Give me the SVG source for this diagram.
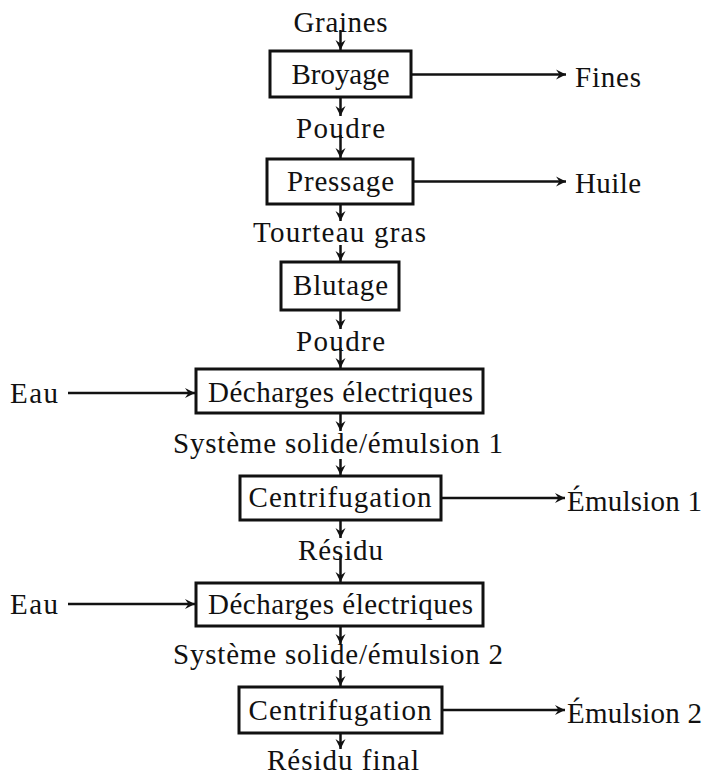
<svg xmlns="http://www.w3.org/2000/svg" width="707" height="775" viewBox="0 0 707 775">
<style>
text{font-family:"Liberation Serif","Times New Roman",serif;font-size:29px;fill:#111}
.c{text-anchor:middle}
.box{fill:#fff;stroke:#111;stroke-width:3}
.ln{fill:none;stroke:#111;stroke-width:2.5;marker-end:url(#ah)}
</style>
<defs>
<marker id="ah" markerUnits="userSpaceOnUse" markerWidth="14" markerHeight="12" viewBox="-11 -6 12 12" refX="0" refY="0" orient="auto">
<path d="M0,0 L-10,-5 L-6.5,0 L-10,5 Z" fill="#111"/>
</marker>
</defs>
<rect width="707" height="775" fill="#fff"/>
<g id="connectors">
<line class="ln" x1="340.5" y1="30" x2="340.5" y2="50"/>
<line class="ln" x1="340.5" y1="97" x2="340.5" y2="116"/>
<line class="ln" x1="340.5" y1="135" x2="340.5" y2="158"/>
<line class="ln" x1="340.5" y1="203" x2="340.5" y2="221"/>
<line class="ln" x1="340.5" y1="245" x2="340.5" y2="261"/>
<line class="ln" x1="340.5" y1="310" x2="340.5" y2="329"/>
<line class="ln" x1="340.5" y1="348" x2="340.5" y2="368"/>
<line class="ln" x1="340.5" y1="413" x2="340.5" y2="431"/>
<line class="ln" x1="340.5" y1="459" x2="340.5" y2="475"/>
<line class="ln" x1="340.5" y1="520" x2="340.5" y2="538"/>
<line class="ln" x1="340.5" y1="556" x2="340.5" y2="582"/>
<line class="ln" x1="340.5" y1="626" x2="340.5" y2="644"/>
<line class="ln" x1="340.5" y1="670" x2="340.5" y2="686"/>
<line class="ln" x1="340.5" y1="733" x2="340.5" y2="749"/>
<line class="ln" x1="411" y1="74.5" x2="566" y2="74.5"/>
<line class="ln" x1="413" y1="181.5" x2="566" y2="181.5"/>
<line class="ln" x1="68" y1="393" x2="195" y2="393"/>
<line class="ln" x1="441" y1="498" x2="565" y2="498"/>
<line class="ln" x1="68" y1="604" x2="195" y2="604"/>
<line class="ln" x1="442" y1="710" x2="565" y2="710"/>
</g>
<g id="graines"><text class="c" x="340.5" y="32" textLength="94">Graines</text></g>
<g id="broyage"><rect class="box" x="270" y="51" width="141" height="46"/><text class="c" x="340.5" y="84" textLength="98">Broyage</text></g>
<g id="fines"><text x="575" y="87" textLength="66">Fines</text></g>
<g id="poudre1"><text class="c" x="340.5" y="138" textLength="89">Poudre</text></g>
<g id="pressage"><rect class="box" x="267" y="159" width="146" height="45"/><text class="c" x="340.5" y="191" textLength="107">Pressage</text></g>
<g id="huile"><text x="575" y="193" textLength="66">Huile</text></g>
<g id="tourteau"><text class="c" x="339.5" y="242" textLength="173">Tourteau gras</text></g>
<g id="blutage"><rect class="box" x="281" y="262" width="118" height="48"/><text class="c" x="340.5" y="295" textLength="95">Blutage</text></g>
<g id="poudre2"><text class="c" x="340.5" y="351" textLength="89">Poudre</text></g>
<g id="eau1"><text x="10" y="403" textLength="48">Eau</text></g>
<g id="decharges1"><rect class="box" x="196" y="369" width="287" height="44"/><text class="c" x="340.5" y="402" textLength="265">Décharges électriques</text></g>
<g id="systeme1"><text class="c" x="338" y="453" textLength="330">Système solide/émulsion 1</text></g>
<g id="centrif1"><rect class="box" x="240" y="476" width="201" height="44"/><text class="c" x="340" y="507" textLength="183">Centrifugation</text></g>
<g id="emulsion1"><text x="567" y="511" textLength="135">Émulsion 1</text></g>
<g id="residu"><text class="c" x="340.5" y="560" textLength="85">Résidu</text></g>
<g id="eau2"><text x="10" y="614" textLength="48">Eau</text></g>
<g id="decharges2"><rect class="box" x="196" y="583" width="287" height="43"/><text class="c" x="340.5" y="614" textLength="265">Décharges électriques</text></g>
<g id="systeme2"><text class="c" x="338" y="664" textLength="330">Système solide/émulsion 2</text></g>
<g id="centrif2"><rect class="box" x="239" y="687" width="203" height="46"/><text class="c" x="340" y="720" textLength="183">Centrifugation</text></g>
<g id="emulsion2"><text x="567" y="723" textLength="135">Émulsion 2</text></g>
<g id="residufinal"><text class="c" x="343" y="770" textLength="152">Résidu final</text></g>
</svg>
